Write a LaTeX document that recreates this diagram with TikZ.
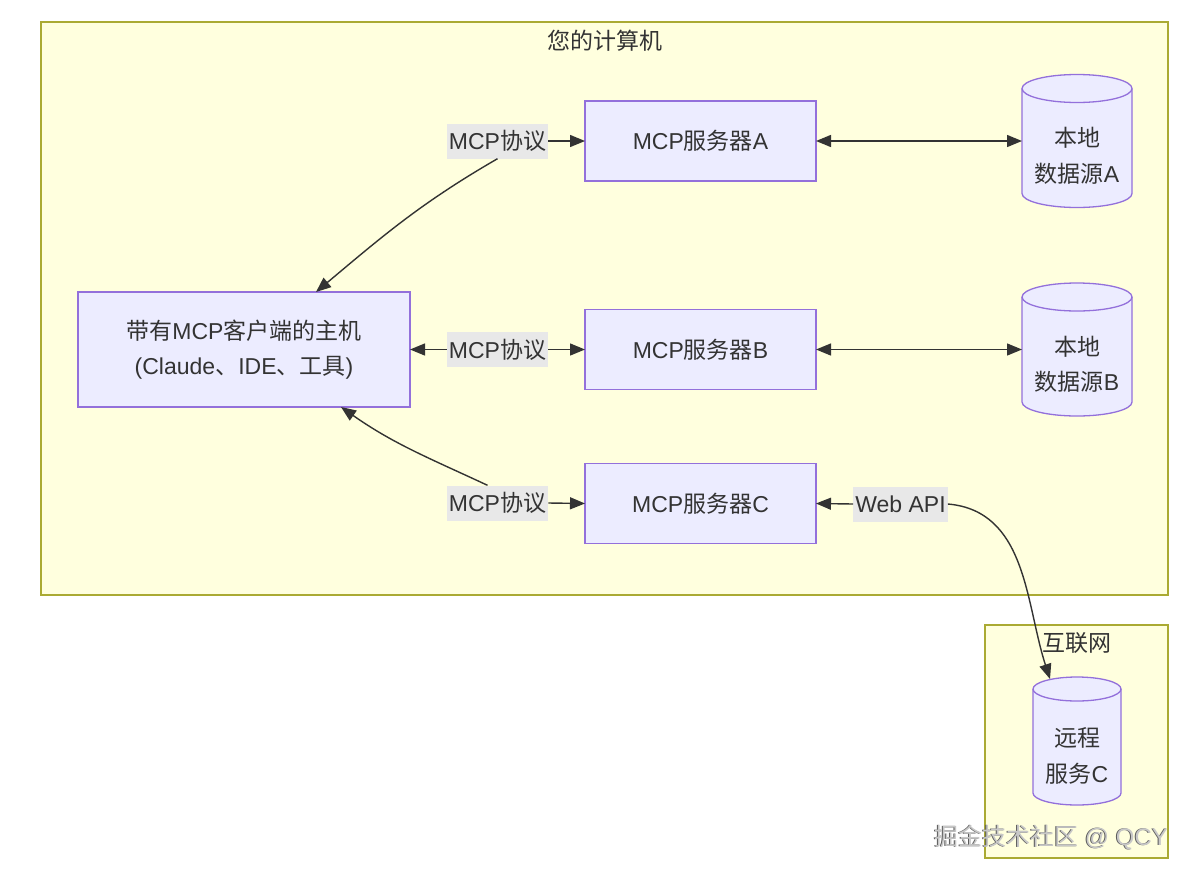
\documentclass[tikz,border=0pt]{standalone}
\usepackage{fontspec}
\setmainfont{Liberation Sans}
\newfontfamily\cjk{Noto Sans CJK SC}
\usetikzlibrary{arrows.meta,calc}
\definecolor{clfill}{HTML}{FFFFDE}
\definecolor{clline}{HTML}{AAAA33}
\definecolor{ndfill}{HTML}{ECECFF}
\definecolor{ndline}{HTML}{9370DB}
\definecolor{txtc}{HTML}{333333}
\definecolor{lblbg}{HTML}{E8E8E8}
\newcommand\zh[1]{{\cjk #1}}
\newcommand\drawcyl[3]{%
  \draw[cylstyle] ($(#1.north west)+(0,-#3)$) -- ($(#1.south west)+(0,#3)$)
    arc[start angle=180,end angle=360,x radius=#2,y radius=#3]
    -- ($(#1.north east)+(0,-#3)$)
    arc[start angle=0,end angle=180,x radius=#2,y radius=#3] -- cycle;
  \draw[cylstyle,fill=none] ($(#1.north west)+(0,-#3)$)
    arc[start angle=180,end angle=360,x radius=#2,y radius=#3];
}
\begin{document}
\begin{tikzpicture}[x=1pt,y=1pt,
  font=\fontsize{23}{35.5}\selectfont, text=txtc,
  cluster/.style={draw=clline,fill=clfill,line width=1.3pt},
  box/.style={draw=ndline,fill=ndfill,line width=1.3pt,align=center,inner sep=0pt,outer sep=0pt},
  cylbody/.style={inner sep=0pt,outer sep=0pt},
  cylstyle/.style={draw=ndline,fill=ndfill,line width=1.3pt},
  cyltext/.style={align=center},
  lbl/.style={fill=lblbg,inner xsep=2pt,inner ysep=0pt,minimum height=35pt},
  conn/.style={draw=txtc,line width=1.4pt},
  arrowend/.style={-{Triangle[length=15pt,width=12pt]}},
  arrowboth/.style={{Triangle[length=15pt,width=12pt]}-{Triangle[length=15pt,width=12pt]}},
]
\useasboundingbox (0,0) rectangle (1194,-876);
\fill[white] (0,0) rectangle (1194,-876);

% clusters
\draw[cluster] (41,-22) rectangle (1168,-595);
\node (tComp) at (605,-41) {\zh{您的计算机}};
\draw[cluster] (985,-625) rectangle (1168,-858);
\node (tNet) at (1077,-643) {\zh{互联网}};

% nodes
\node[box,minimum width=332pt,minimum height=115pt] (host) at (244,-349.5)
  {\zh{带有}MCP\zh{客户端的主机}\\(Claude\zh{、}IDE\zh{、工具})};
\node[box,minimum width=231pt,minimum height=80pt] (sA) at (700.5,-141) {MCP\zh{服务器}A};
\node[box,minimum width=231pt,minimum height=80pt] (sB) at (700.5,-349.5) {MCP\zh{服务器}B};
\node[box,minimum width=231pt,minimum height=80pt] (sC) at (700.5,-503.5) {MCP\zh{服务器}C};

\node[cylbody,minimum width=110pt,minimum height=133pt] (dA) at (1077,-141) {};
\drawcyl{dA}{55}{14}
\node[cyltext] (dAt) at (1077,-156) {\zh{本地}\\\zh{数据源}A};
\node[cylbody,minimum width=110pt,minimum height=133pt] (dB) at (1077,-349.5) {};
\drawcyl{dB}{55}{14}
\node[cyltext] (dBt) at (1077,-364.5) {\zh{本地}\\\zh{数据源}B};
\node[cylbody,minimum width=88pt,minimum height=128pt] (rem) at (1077,-741) {};
\drawcyl{rem}{44}{12}
\node[cyltext] (remt) at (1077,-756) {\zh{远程}\\\zh{服务}C};

% edge labels
\node[lbl] (lA) at (497.5,-141) {MCP\zh{协议}};
\node[lbl] (lB) at (497.5,-349.5) {MCP\zh{协议}};
\node[lbl] (lC) at (497.5,-503) {MCP\zh{协议}};
\node[lbl] (lW) at (900.5,-504) {Web API};

% edges
\draw[conn,arrowend] (lA.east) -- (sA.west);
\draw[conn,arrowend] (lA.south) to[out=210,in=40] ($(host.north)+(72,0)$);
\draw[conn,arrowend] (lB.west) -- (host.east);
\draw[conn,arrowend] (lB.east) -- (sB.west);
\draw[conn,arrowend] (lC.east) -- (sC.west);
\draw[conn,arrowend] ($(lC.north)+(-10,0)$) to[out=155,in=-35] ($(host.south)+(97,0)$);
\draw[conn,arrowboth] (sA.east) -- (dA.west);
\draw[conn,arrowboth] (sB.east) -- (dB.west);
\draw[conn,arrowend] (lW.west) -- (sC.east);
\draw[conn,arrowend] (lW.east) to[out=-5,in=108] ($(rem.north)+(-27,-2)$);

% watermark
\node[text=black!65,font=\fontsize{24}{28}\selectfont] (wmS) at (1050,-837.5) {\zh{掘金技术社区} @ QCY};
\node[text=black!22,font=\fontsize{24}{28}\selectfont] (wm) at (1051,-838) {\zh{掘金技术社区} @ QCY};
\end{tikzpicture}
\end{document}
